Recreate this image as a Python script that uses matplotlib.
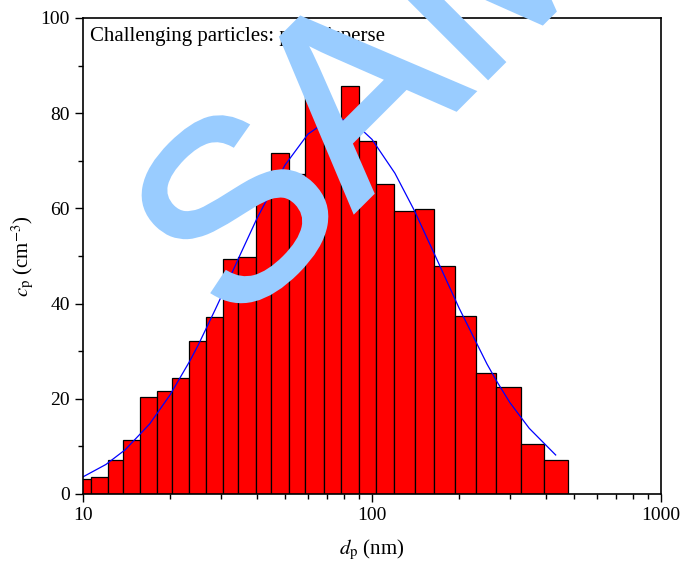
import matplotlib
matplotlib.use("Agg")
import matplotlib.pyplot as plt
import matplotlib.patheffects as pe
import numpy as np

plt.rcParams['font.family'] = ['Liberation Serif', 'DejaVu Serif']
plt.rcParams['mathtext.fontset'] = 'stix'

# bin edges (nm) and concentrations (cm^-3)
edges = [9.4, 10.69, 12.2, 13.8, 15.7, 18.0, 20.4, 23.3, 26.7, 30.4, 34.5,
         39.6, 44.9, 51.8, 58.8, 68.3, 78.1, 90.0, 103.6, 119.6, 141.4,
         163.9, 194.2, 228.6, 269.4, 327.2, 394.9, 478.3]
conc = [3.2, 3.6, 7.1, 11.3, 20.4, 21.7, 24.3, 32.1, 37.1, 49.3, 49.7, 64.0,
        71.6, 67.3, 84.0, 78.0, 85.7, 74.1, 65.1, 59.5, 59.9, 47.9, 37.5,
        25.5, 22.5, 10.5, 7.1]

# fitted curve
fit_d = [10, 12, 14, 17, 20, 23.4, 25, 28.6, 30, 35, 40, 50, 60, 70, 80, 90,
         100, 120, 140, 170, 200, 250, 270, 300, 350, 432]
fit_c = [3.6, 6.2, 9.3, 14.7, 20.8, 27.9, 31.2, 38.6, 41.3, 50.3, 57.9, 69.1,
         75.6, 78.4, 78.6, 77.1, 74.5, 67.4, 59.6, 48.5, 39.1, 27.3, 23.7,
         19.2, 13.8, 8.2]

fig = plt.figure(figsize=(6.81, 5.70), dpi=100)
ax = fig.add_axes([83/681, 76/570, 578/681, 476/570])

left = np.array(edges[:-1])
width = np.array(edges[1:]) - left
ax.bar(left, conc, width=width, align='edge', color='#ff0000',
       edgecolor='black', linewidth=0.9)
ax.plot(fit_d, fit_c, color='#0000ff', linewidth=0.9)

ax.set_xscale('log')
ax.set_xlim(10, 1000)
ax.set_ylim(0, 100)
ax.set_yticks([0, 20, 40, 60, 80, 100])
ax.set_yticks([10, 30, 50, 70, 90], minor=True)
ax.set_xticks([10, 100, 1000])
ax.set_xticklabels(['10', '100', '1000'])
ax.tick_params(which='major', direction='out', length=6, width=1.0,
               labelsize=14, top=False, right=False)
ax.tick_params(which='minor', direction='out', length=3.5, width=1.0,
               top=False, right=False)
for s in ax.spines.values():
    s.set_linewidth(1.2)

ax.set_xlabel(r'$d_{\rm p}$ (nm)', fontsize=15, labelpad=10)
ax.set_ylabel(r'$c_{\rm p}$ (cm$^{-3}$)', fontsize=15, labelpad=3)

ax.text(0.012, 0.962, 'Challenging particles: polydisperse', transform=ax.transAxes,
        fontsize=15, ha='left', va='center')

# watermark
fig.text(235/681, 1 - 330/570, 'SAMPLE', fontsize=182, color='#99ccff',
         family='Liberation Sans', rotation=45, rotation_mode='anchor',
         ha='left', va='baseline', zorder=10,
         path_effects=[pe.withStroke(linewidth=3.5, foreground='#99ccff',
                                     joinstyle='miter', capstyle='butt')])

fig.savefig('out.png', dpi=100)
